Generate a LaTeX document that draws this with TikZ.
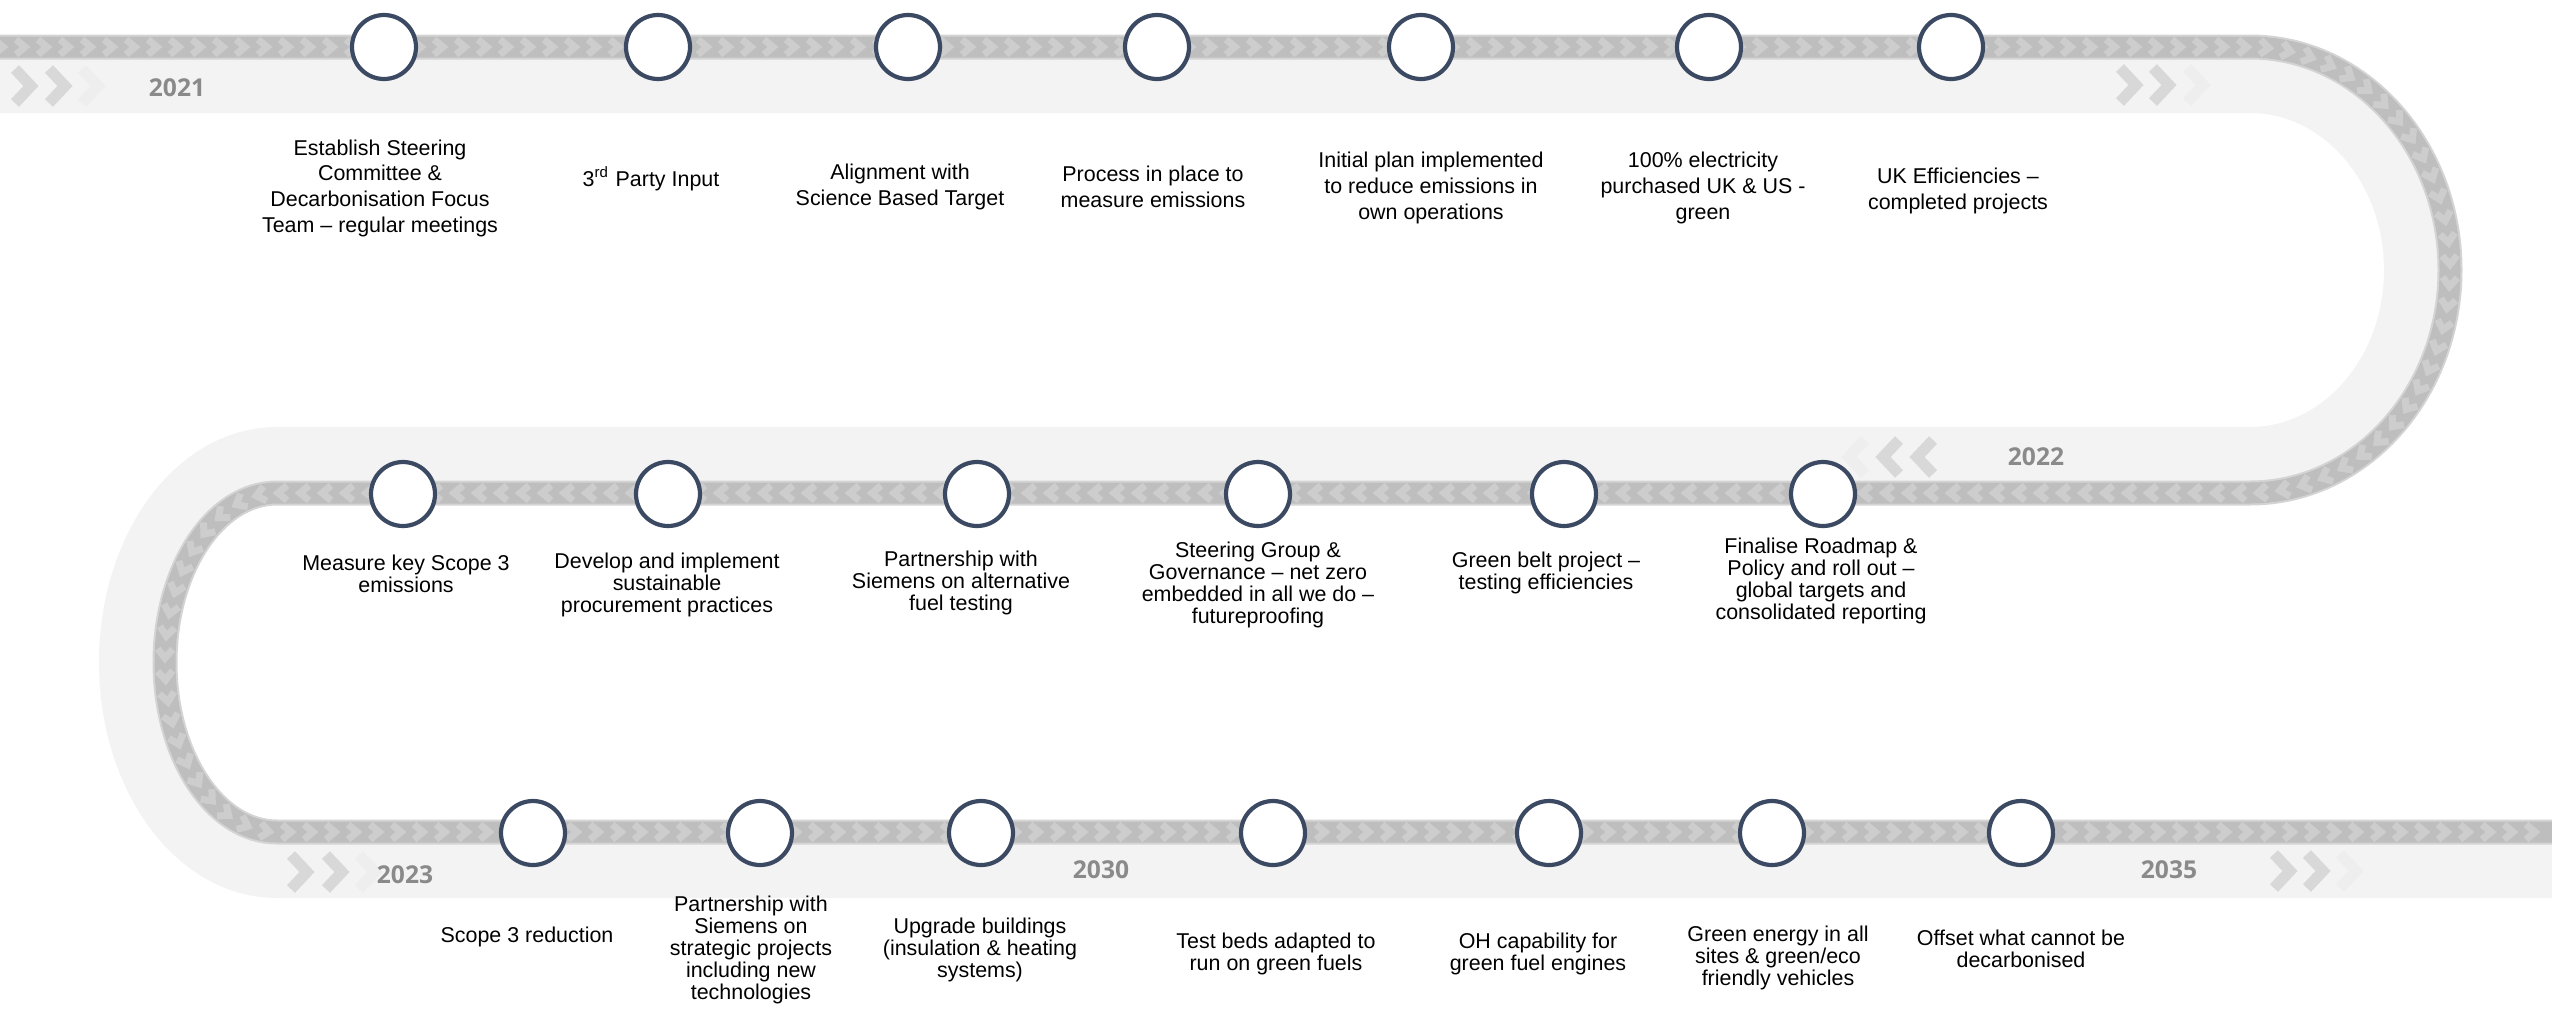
\documentclass[tikz,border=0pt]{standalone}
\usepackage{fontspec}
\setmainfont{Liberation Sans}
\newfontfamily\yearfont{Open Sans}
\usetikzlibrary{decorations.markings}
\definecolor{roadc}{HTML}{F3F3F3}
\definecolor{bandedge}{HTML}{D4D4D4}
\definecolor{bandc}{HTML}{BEBEBE}
\definecolor{chevc}{HTML}{CDCDCD}
\definecolor{bigchev}{HTML}{D8D8D8}
\definecolor{bigchevfaint}{HTML}{EEEEEE}
\definecolor{circc}{HTML}{3B4A62}
\definecolor{yearc}{HTML}{8A8A8A}
\tikzset{
  road/.style={draw=roadc, line width=6.6mm},
  bandshadow/.style={draw=bandedge, line width=2.5mm},
  band/.style={draw=bandc, line width=2.1mm,
    postaction={decorate},
    decoration={markings, mark=between positions 0 and 1 step 2.2mm with {\draw[chevline] (-6,-7.5) -- (3,0) -- (-6,7.5);}}},
  chevline/.style={draw=chevc, line width=0.7mm},
  ms/.style={circle, draw=circc, line width=0.42mm, fill=white, minimum size=6.4mm, inner sep=0pt},
  labtop/.style={align=center, font=\fontsize{6.1}{7.3}\selectfont, inner sep=0pt},
  lab/.style={align=center, font=\fontsize{6.1}{6.3}\selectfont, inner sep=0pt},
  year/.style={font=\yearfont\bfseries\fontsize{7}{8}\selectfont, text=yearc, inner sep=0pt},
  bchev/.style={draw=bigchev, line width=1.1mm, line join=miter},
  bchevf/.style={draw=bigchevfaint, line width=1.1mm, line join=miter},
  chevR/.pic={\draw[bchev] (-8,-17) -- (8,0) -- (-8,17);},
  chevRf/.pic={\draw[bchevf] (-8,-17) -- (8,0) -- (-8,17);},
  chevL/.pic={\draw[bchev] (8,-17) -- (-8,0) -- (8,17);},
  chevLf/.pic={\draw[bchevf] (8,-17) -- (-8,0) -- (8,17);}
}
\begin{document}
\begin{tikzpicture}[x=0.1mm,y=-0.1mm]
\useasboundingbox (0,0) rectangle (2552,1009);
\fill[white] (0,0) rectangle (2552,1009);

% light road
\draw[road] (0,80) -- (2250,80) arc[start angle=-90,end angle=90,x radius=167,y radius=190]
  -- (277,460) arc[start angle=-90,end angle=-270,x radius=145,y radius=202.5] -- (2552,865);

% band
\draw[bandshadow] (0,47) -- (2250,47) arc[start angle=-90,end angle=90,x radius=200,y radius=223]
  -- (277,493) arc[start angle=-90,end angle=-270,x radius=112,y radius=169.5] -- (2552,832);
\draw[band] (0,47) -- (2250,47) arc[start angle=-90,end angle=90,x radius=200,y radius=223]
  -- (277,493) arc[start angle=-90,end angle=-270,x radius=112,y radius=169.5] -- (2552,832);

% big faded chevrons
\pic at (23,86) {chevR}; \pic at (57,86) {chevR}; \pic at (90,86) {chevRf};
\pic at (2128,85) {chevR}; \pic at (2161,85) {chevR}; \pic at (2195,85) {chevRf};
\pic at (1925,457) {chevL}; \pic at (1891,457) {chevL}; \pic at (1857,457) {chevLf};
\pic at (299,872) {chevR}; \pic at (334,872) {chevR}; \pic at (367,872) {chevRf};
\pic at (2282,871) {chevR}; \pic at (2315,871) {chevR}; \pic at (2348,871) {chevRf};

% years
\node[year] (y2021) at (177,88) {2021};
\node[year] (y2022) at (2036,457) {2022};
\node[year] (y2023) at (405,875) {2023};
\node[year] (y2030) at (1101,870) {2030};
\node[year] (y2035) at (2169,870) {2035};

% milestones top
\node[ms] (t1) at (384,47) {};
\node[ms] (t2) at (658,47) {};
\node[ms] (t3) at (908,47) {};
\node[ms] (t4) at (1157,47) {};
\node[ms] (t5) at (1421,47) {};
\node[ms] (t6) at (1709,47) {};
\node[ms] (t7) at (1951,47) {};
% milestones middle
\node[ms] (m1) at (403,494) {};
\node[ms] (m2) at (668,494) {};
\node[ms] (m3) at (977,494) {};
\node[ms] (m4) at (1258,494) {};
\node[ms] (m5) at (1564,494) {};
\node[ms] (m6) at (1823,494) {};
% milestones bottom
\node[ms] (b1) at (533,833) {};
\node[ms] (b2) at (760,833) {};
\node[ms] (b3) at (981,833) {};
\node[ms] (b4) at (1273,833) {};
\node[ms] (b5) at (1549,833) {};
\node[ms] (b6) at (1772,833) {};
\node[ms] (b7) at (2021,833) {};

% labels top
\node[labtop] (lt1) at (380,188) {Establish Steering\\Committee \&\\Decarbonisation Focus\\Team – regular meetings};
\node[labtop] (lt2) at (651,179) {3\textsuperscript{rd} Party Input};
\node[labtop] (lt3) at (900,187) {Alignment with\\Science Based Target};
\node[labtop] (lt4) at (1153,187) {Process in place to\\measure emissions};
\node[labtop] (lt5) at (1431,188) {Initial plan implemented\\to reduce emissions in\\own operations};
\node[labtop] (lt6) at (1703,188) {100\% electricity\\purchased UK \& US -\\green};
\node[labtop] (lt7) at (1958,191) {UK Efficiencies –\\completed projects};
% labels middle
\node[lab] (lm1) at (406,574) {Measure key Scope 3\\emissions};
\node[lab] (lm2) at (667,585) {Develop and implement\\sustainable\\procurement practices};
\node[lab] (lm3) at (961,583) {Partnership with\\Siemens on alternative\\fuel testing};
\node[lab] (lm4) at (1258,585) {Steering Group \&\\Governance – net zero\\embedded in all we do –\\futureproofing};
\node[lab] (lm5) at (1546,573) {Green belt project –\\testing efficiencies};
\node[lab] (lm6) at (1821,581) {Finalise Roadmap \&\\Policy and roll out –\\global targets and\\consolidated reporting};
% labels bottom
\node[lab] (lb1) at (527,937) {Scope 3 reduction};
\node[lab] (lb2) at (751,950) {Partnership with\\Siemens on\\strategic projects\\including new\\technologies};
\node[lab] (lb3) at (980,950) {Upgrade buildings\\(insulation \& heating\\systems)};
\node[lab] (lb4) at (1276,954) {Test beds adapted to\\run on green fuels};
\node[lab] (lb5) at (1538,954) {OH capability for\\green fuel engines};
\node[lab] (lb6) at (1778,958) {Green energy in all\\sites \& green/eco\\friendly vehicles};
\node[lab] (lb7) at (2021,949) {Offset what cannot be\\decarbonised};
\end{tikzpicture}
\end{document}
